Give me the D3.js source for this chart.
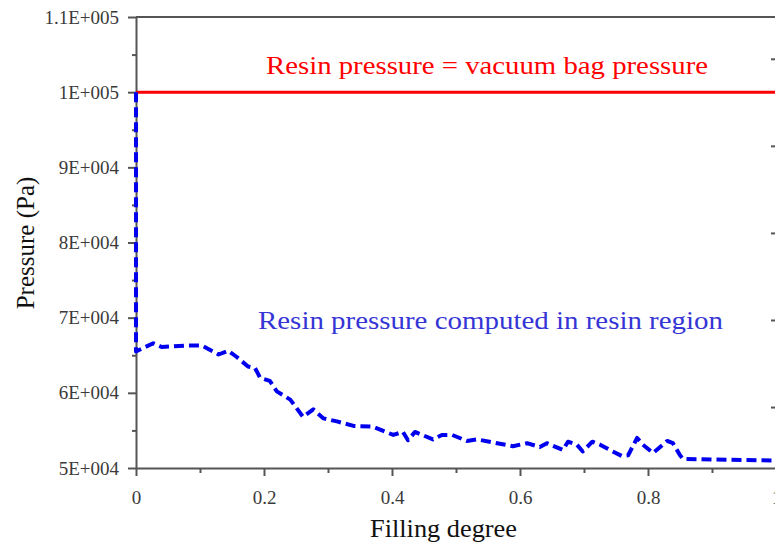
<!DOCTYPE html>
<html>
<head>
<meta charset="utf-8">
<script src="https://cdn.jsdelivr.net/npm/d3@7"></script>
</head>
<body style="margin:0;background:#fff">
<svg id="chart" width="775" height="544" style="display:block"></svg>
<script>
// ---- data ----
const fillDegree = [0, 0, 0.027, 0.040, 0.079, 0.103, 0.129, 0.144, 0.157, 0.175, 0.186, 0.194, 0.209, 0.220, 0.241, 0.261, 0.277, 0.293, 0.314, 0.340, 0.370, 0.402, 0.417, 0.425, 0.436, 0.464, 0.478, 0.494, 0.517, 0.533, 0.558, 0.589, 0.611, 0.631, 0.642, 0.667, 0.675, 0.689, 0.698, 0.713, 0.725, 0.745, 0.759, 0.769, 0.783, 0.792, 0.808, 0.819, 0.830, 0.839, 0.850, 0.855, 0.923, 0.995];
const resinPressure = [100000, 65500, 66600, 66100, 66300, 66300, 65100, 65600, 64800, 63500, 63300, 62000, 61600, 60200, 59100, 56800, 57800, 56600, 56200, 55600, 55500, 54400, 54800, 53700, 54800, 53800, 54400, 54400, 53600, 53800, 53400, 52900, 53300, 52800, 53300, 52400, 53500, 53100, 52200, 53500, 53100, 52200, 51600, 51700, 54000, 53100, 52000, 52800, 53600, 53300, 51700, 51200, 51100, 51000];
const bagPressure = 100000;
const bagX = [0, 1];

const yTickValues = [50000, 60000, 70000, 80000, 90000, 100000, 110000];
const yTickLabels = ["5E+004", "6E+004", "7E+004", "8E+004", "9E+004", "1E+005", "1.1E+005"];
const yMinorTicks = [55000, 65000, 75000, 85000, 95000, 105000];
const xTickValues = [0, 0.2, 0.4, 0.6, 0.8, 1];
const xTickLabels = ["0", "0.2", "0.4", "0.6", "0.8", "1"];
const xMinorTicks = [0.1, 0.3, 0.5, 0.7, 0.9];
const rightTicks = [1, 2, 3, 4, 5];

const labelRed = "Resin pressure = vacuum bag pressure";
const labelBlue = "Resin pressure computed in resin region";
const xTitle = "Filling degree";
const yTitle = "Pressure (Pa)";

// ---- layout ----
const svg = d3.select("#chart");
const L = 136, R = 776, T = 17, B = 468;
const FONT = '"Liberation Serif", "Times New Roman", Times, serif';
const axisColor = "#555";
const textColor = "#3a3a3a";

const x = d3.scaleLinear().domain([0, 1]).range([L, R]);
const y = d3.scaleLinear().domain([50000, 110000]).range([B, T]);
const yR = d3.scaleLinear().domain([0.3, 5.48]).range([B, T]);

// left axis
const yAxis = d3.axisLeft(y).tickValues(yTickValues)
  .tickFormat((d, i) => yTickLabels[i]).tickSize(8).tickSizeOuter(0).tickPadding(9);
const gy = svg.append("g").attr("transform", `translate(${L},0)`).call(yAxis);
gy.select(".domain").attr("stroke", axisColor).attr("stroke-width", 2);
gy.selectAll(".tick line").attr("stroke", axisColor).attr("stroke-width", 2);
gy.selectAll(".tick text").style("font-family", FONT).style("font-size", "19px").attr("fill", textColor);

const gyMinor = svg.append("g").attr("transform", `translate(${L},0)`)
  .call(d3.axisLeft(y).tickValues(yMinorTicks).tickFormat("").tickSize(4).tickSizeOuter(0));
gyMinor.select(".domain").remove();
gyMinor.selectAll(".tick line").attr("stroke", axisColor).attr("stroke-width", 2);

// bottom axis
const xAxis = d3.axisBottom(x).tickValues(xTickValues)
  .tickFormat((d, i) => xTickLabels[i]).tickSize(8).tickSizeOuter(0).tickPadding(15);
const gx = svg.append("g").attr("transform", `translate(0,${B})`).call(xAxis);
gx.select(".domain").attr("stroke", axisColor).attr("stroke-width", 2);
gx.selectAll(".tick line").attr("stroke", axisColor).attr("stroke-width", 2);
gx.selectAll(".tick text").style("font-family", FONT).style("font-size", "19px").attr("fill", textColor);

const gxMinor = svg.append("g").attr("transform", `translate(0,${B})`)
  .call(d3.axisBottom(x).tickValues(xMinorTicks).tickFormat("").tickSize(5).tickSizeOuter(0));
gxMinor.select(".domain").remove();
gxMinor.selectAll(".tick line").attr("stroke", axisColor).attr("stroke-width", 2);

// top border
svg.append("line").attr("x1", L).attr("x2", R).attr("y1", y(110000)).attr("y2", y(110000))
  .attr("stroke", axisColor).attr("stroke-width", 2);

// right side tick marks
const gr = svg.append("g").attr("transform", `translate(${R - 1},0)`)
  .call(d3.axisLeft(yR).tickValues(rightTicks).tickFormat("").tickSize(4).tickSizeOuter(0));
gr.select(".domain").remove();
gr.selectAll(".tick line").attr("stroke", axisColor).attr("stroke-width", 2);

// red line
svg.append("path")
  .datum(bagX.map(v => [v, bagPressure]))
  .attr("d", d3.line().x(d => x(d[0])).y(d => y(d[1])))
  .attr("fill", "none").attr("stroke", "#f00").attr("stroke-width", 3);

// blue dashed line
svg.append("path")
  .datum(fillDegree.map((v, i) => [v, resinPressure[i]]))
  .attr("d", d3.line().x(d => x(d[0])).y(d => y(d[1])))
  .attr("fill", "none").attr("stroke", "#0000ee").attr("stroke-width", 4)
  .attr("stroke-dasharray", "10,5").attr("stroke-linejoin", "round");

// annotations
svg.append("text").attr("x", 266).attr("y", 74)
  .attr("textLength", 442).attr("lengthAdjust", "spacingAndGlyphs")
  .style("font-family", FONT).style("font-size", "26px").attr("fill", "#f00").text(labelRed);
svg.append("text").attr("x", 258).attr("y", 329)
  .attr("textLength", 465).attr("lengthAdjust", "spacingAndGlyphs")
  .style("font-family", FONT).style("font-size", "26px").attr("fill", "#3535d5").text(labelBlue);

// titles
svg.append("text").attr("x", 370).attr("y", 537)
  .attr("textLength", 147).attr("lengthAdjust", "spacingAndGlyphs")
  .style("font-family", FONT).style("font-size", "25px").attr("fill", "#111").text(xTitle);
svg.append("text").attr("transform", "translate(34,243) rotate(-90)").attr("text-anchor", "middle")
  .style("font-family", FONT).style("font-size", "25px").attr("fill", "#111").text(yTitle);
</script>
</body>
</html>
